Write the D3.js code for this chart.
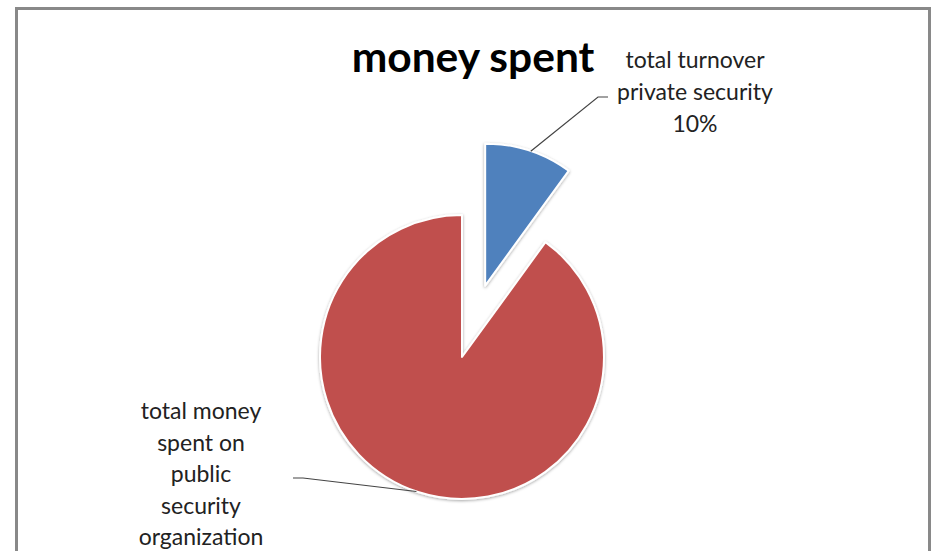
<!DOCTYPE html>
<html>
<head>
<meta charset="utf-8">
<script src="https://cdn.jsdelivr.net/npm/d3@7"></script>
<style>
  body { margin: 0; background: #fff; }
  text { font-family: Lato, "Open Sans", sans-serif; fill: #222; }
</style>
</head>
<body>
<div id="chart"></div>
<script>
// data
const categories = ["total turnover private security", "total money spent on public security organization"];
const values = [10, 90];
const colors = ["#4F81BD", "#C0504D"];
const labelLines = [
    ["total turnover", "private security", "10%"],
    ["total money", "spent on", "public", "security", "organization"]
];

const W = 936, H = 551;
const svg = d3.select("#chart").append("svg").attr("width", W).attr("height", H);

// chart frame
svg.append("rect")
    .attr("x", 16.5).attr("y", 8.5)
    .attr("width", 913).attr("height", 600)
    .attr("fill", "#fff")
    .attr("stroke", "#898989")
    .attr("stroke-width", 3);

// soft shadow for slices
const defs = svg.append("defs");
const f = defs.append("filter").attr("id", "shadow").attr("x", "-20%").attr("y", "-20%").attr("width", "140%").attr("height", "140%");
f.append("feDropShadow").attr("dx", 0).attr("dy", 1).attr("stdDeviation", 1.5).attr("flood-color", "#000").attr("flood-opacity", 0.35);

svg.append("text")
    .attr("x", 473).attr("y", 72)
    .attr("text-anchor", "middle")
    .attr("font-size", 42.5)
    .attr("font-weight", "bold")
    .style("fill", "#000")
    .text("money spent");

const cx = 462, cy = 357, r = 142;
const explode = [75, 0];

const pie = d3.pie().sort(null).value(d => d)(values);
const arc = d3.arc().innerRadius(0).outerRadius(r);

const g = svg.append("g").attr("transform", `translate(${cx},${cy})`);

const offset = d => {
    const i = d.index, a = (d.startAngle + d.endAngle) / 2;
    return [Math.sin(a) * explode[i], -Math.cos(a) * explode[i]];
};

g.selectAll("path.slice")
    .data(pie)
    .enter()
    .append("path")
    .attr("class", "slice")
    .attr("d", arc)
    .attr("transform", d => `translate(${offset(d)})`)
    .attr("fill", (d, i) => colors[i])
    .attr("stroke", "#fff")
    .attr("stroke-width", 2)
    .attr("stroke-linejoin", "round")
    .attr("filter", "url(#shadow)");

// leader lines: start point on slice edge, elbow near label
const leaders = [
    { angle: 0.1 * Math.PI * 2 * 0.52, elbow: [598, 97], end: [608, 97] },
    { angle: Math.PI * 2 * 0.552, elbow: [303, 478], end: [293, 478] }
];
leaders.forEach((l, i) => {
    const o = offset(pie[i]);
    const start = [cx + o[0] + Math.sin(l.angle) * r, cy + o[1] - Math.cos(l.angle) * r];
    svg.append("path")
        .attr("d", d3.line()([start, l.elbow, l.end]))
        .attr("fill", "none")
        .attr("stroke", "#444")
        .attr("stroke-width", 1.2);
});

const labelPos = [[695, 68, 32], [201, 419, 31.5]];
labelLines.forEach((lines, i) => {
    const t = svg.append("text")
        .attr("text-anchor", "middle")
        .attr("font-size", 23);
    lines.forEach((s, j) => {
        t.append("tspan")
            .attr("x", labelPos[i][0])
            .attr("y", labelPos[i][1] + j * labelPos[i][2])
            .text(s);
    });
});
</script>
</body>
</html>
